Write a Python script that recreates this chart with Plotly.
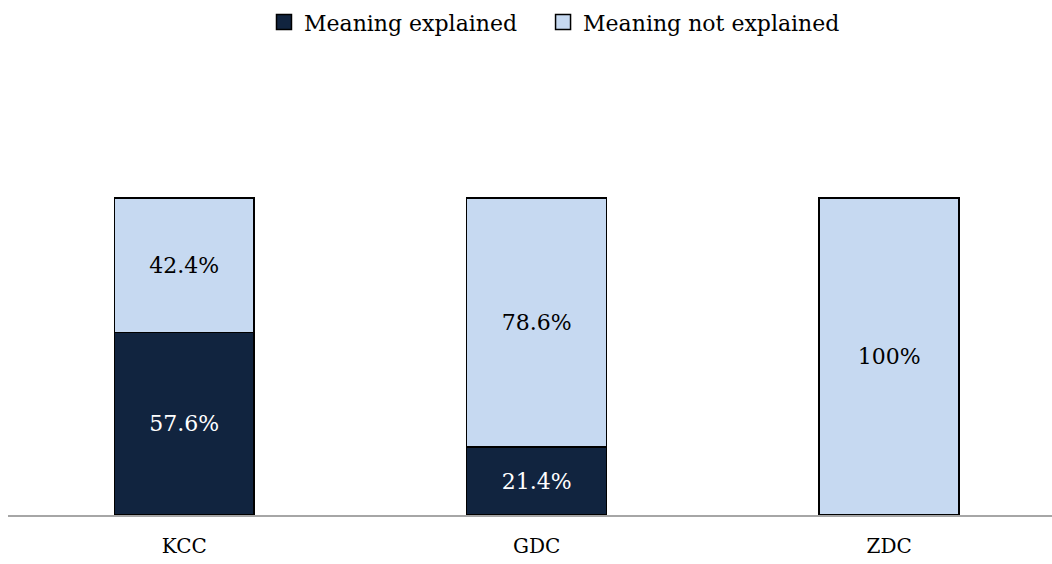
import plotly.graph_objects as go

categories = ["KCC", "GDC", "ZDC"]
explained = [57.6, 21.4, 0.0]
not_explained = [42.4, 78.6, 100.0]
series_names = ["Meaning explained", "Meaning not explained"]

DARK = "#11243f"
LIGHT = "#c6d9f1"
FONT = "DejaVu Serif"


def labels(vals):
    return [f"{v:g}%" if v > 0 else "" for v in vals]


fig = go.Figure()
fig.add_trace(go.Bar(
    x=categories, y=explained, name=series_names[0], showlegend=False,
    marker=dict(color=DARK, line=dict(color="#000000", width=1.5)),
    text=labels(explained), textposition="inside", insidetextanchor="middle",
    textfont=dict(family=FONT, size=22, color="#ffffff"),
    textangle=0,
))
fig.add_trace(go.Bar(
    x=categories, y=not_explained, name=series_names[1], showlegend=False,
    marker=dict(color=LIGHT, line=dict(color="#000000", width=1.5)),
    text=labels(not_explained), textposition="inside", insidetextanchor="middle",
    textfont=dict(family=FONT, size=22, color="#000000"),
    textangle=0,
))

# legend entries (square swatches with black outline)
for name, color, leg in [(series_names[0], DARK, "legend"),
                         (series_names[1], LIGHT, "legend2")]:
    fig.add_trace(go.Scatter(
        x=[None], y=[None], mode="markers", name=name, legend=leg,
        showlegend=True, hoverinfo="skip",
        marker=dict(symbol="square", size=15, color=color,
                    line=dict(color="#000000", width=1.5)),
    ))

legend_common = dict(
    orientation="h", xanchor="left", y=0.957, yanchor="middle",
    font=dict(family=FONT, size=22, color="#000000"),
    bgcolor="rgba(0,0,0,0)", itemsizing="trace",
)

fig.update_layout(
    width=1052, height=564,
    barmode="stack", bargap=0.603,
    plot_bgcolor="#ffffff", paper_bgcolor="#ffffff",
    margin=dict(l=8, r=0, t=0, b=49),
    font=dict(family=FONT, size=20, color="#000000"),
    showlegend=True,
    legend=dict(x=0.2452, **legend_common),
    legend2=dict(x=0.5125, **legend_common),
    xaxis=dict(
        range=[-0.5, 2.462], showline=True, linecolor="#a6a6a6", linewidth=2,
        ticks="", showgrid=False, zeroline=False, ticklabelstandoff=12,
        tickfont=dict(family=FONT, size=20, color="#000000"),
    ),
    yaxis=dict(range=[0, 162.5], visible=False, showgrid=False, zeroline=False),
)

fig.write_html("out.html")
